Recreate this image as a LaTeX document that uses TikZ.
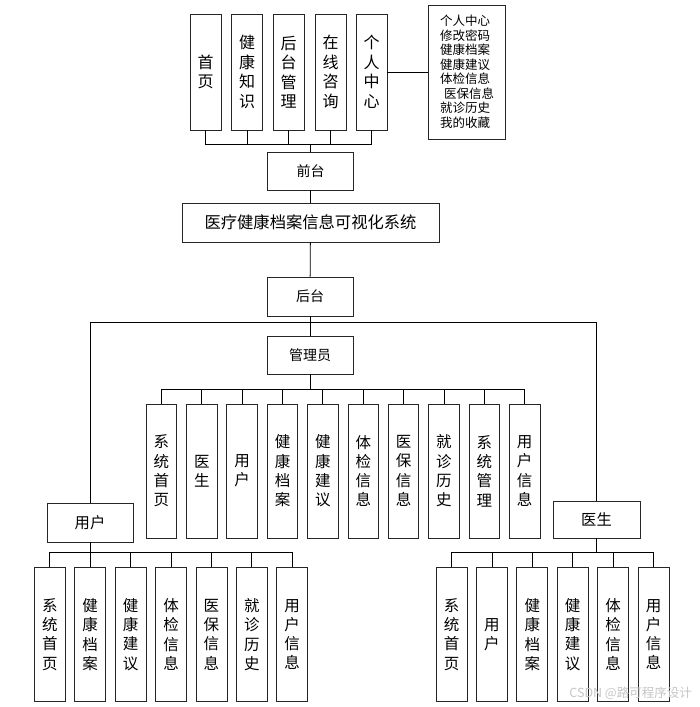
\documentclass[tikz,border=0pt]{standalone}
\usepackage{fontspec}
\newfontfamily\cjk{Noto Sans CJK SC}
\begin{document}
\begin{tikzpicture}[x=1pt,y=-1pt,
  bx/.style={draw=black!85, line width=0.8pt, inner sep=0pt, align=center, fill=white},
  tv/.style={bx, minimum width=31pt, minimum height=116pt, font=\cjk\fontsize{16}{19.5}\selectfont},
  cv/.style={bx, minimum width=30.5pt, minimum height=134pt, font=\cjk\fontsize{15.5}{19.3}\selectfont},
  hb/.style={bx, minimum width=86pt, minimum height=38pt, font=\cjk\fontsize{14}{16}\selectfont},
  ln/.style={line width=0.8pt, black}]
\useasboundingbox[fill=white] (0,0) rectangle (699,707);
% top
\node[tv] (t1) at (205.5,72) {首\\页};
\node[tv] (t2) at (247,72) {健\\康\\知\\识};
\node[tv] (t3) at (288.5,72) {后\\台\\管\\理};
\node[tv] (t4) at (330.5,72) {在\\线\\咨\\询};
\node[tv] (t5) at (371.5,72) {个\\人\\中\\心};
\node[bx, minimum width=77pt, minimum height=134pt, align=left, font=\cjk\fontsize{12.5}{14.5}\selectfont] (pc) at (467,72)
  {个人中心\\修改密码\\健康档案\\健康建议\\体检信息\\\hspace{4pt}医保信息\\就诊历史\\我的收藏};
\node[hb] (qt) at (310.5,171) {前台};
\node[bx, minimum width=257pt, minimum height=39pt, font=\cjk\fontsize{16.3}{18}\selectfont] (sys) at (310.5,222.5) {医疗健康档案信息可视化系统};
\node[hb, minimum height=39pt] (ht) at (310,296.5) {后台};
\node[hb] (gly) at (310,355) {管理员};
\node[hb, minimum height=39pt, font=\cjk\fontsize{15.3}{17}\selectfont] (yh) at (90,522.5) {用户};
\node[hb, minimum width=87pt, minimum height=37pt, font=\cjk\fontsize{15.3}{17}\selectfont] (ys) at (596.5,519.5) {医生};
% top connectors
\coordinate (tbus) at (310.5,144.3);
\draw[ln] (t5.east) -- (pc.west);
\foreach \n in {t1,t2,t3,t4,t5} \draw[ln] (\n.south) |- (tbus);
\draw[ln] (tbus) -- (qt.north);
\draw[ln] (qt) -- (sys);
\draw[ln] (sys) -- (ht);
\draw[ln] (ht) -- (gly);
\coordinate (hj) at (310,322.7);
\draw[ln] (hj) -| (yh.north);
\draw[ln] (hj) -| (ys.north);
% admin children
\coordinate (abus) at (310,389.3);
\draw[ln] (gly.south) -- (abus);
\foreach \t [count=\i from 0] in {{系\\统\\首\\页},{医\\生},{用\\户},{健\\康\\档\\案},{健\\康\\建\\议},{体\\检\\信\\息},{医\\保\\信\\息},{就\\诊\\历\\史},{系\\统\\管\\理},{用\\户\\信\\息}}{
  \node[cv] (a\i) at ({161.4+40.37*\i},471) {\t};
  \draw[ln] (abus) -| (a\i.north);
}
% user children
\coordinate (ub) at (90,552.7);
\draw[ln] (yh.south) -- (ub);
\foreach \t [count=\i from 0] in {{系\\统\\首\\页},{健\\康\\档\\案},{健\\康\\建\\议},{体\\检\\信\\息},{医\\保\\信\\息},{就\\诊\\历\\史},{用\\户\\信\\息}}{
  \node[cv, minimum width=31pt, minimum height=134.4pt] (u\i) at ({49.8+40.4*\i},634.5) {\t};
  \draw[ln] (ub) -| (u\i.north);
}
% doctor children
\coordinate (db) at (596.5,552.3);
\draw[ln] (ys.south) -- (db);
\foreach \t [count=\i from 0] in {{系\\统\\首\\页},{用\\户},{健\\康\\档\\案},{健\\康\\建\\议},{体\\检\\信\\息},{用\\户\\信\\息}}{
  \node[cv, minimum width=31pt, minimum height=134.4pt] (d\i) at ({451.5+40.4*\i},634.5) {\t};
  \draw[ln] (db) -| (d\i.north);
}
\node[font=\cjk\fontsize{12.5}{13}\selectfont, text=gray!45, anchor=east, inner sep=0pt] (wm) at (692,693) {CSDN @路可程序设计};
\end{tikzpicture}
\end{document}
